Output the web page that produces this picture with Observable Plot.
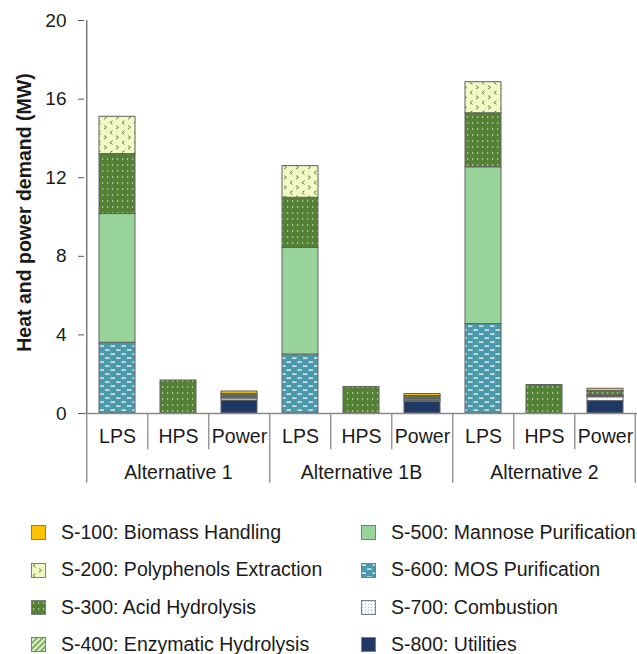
<!DOCTYPE html>
<html><head><meta charset="utf-8">
<script src="https://cdn.jsdelivr.net/npm/d3@7"></script>
<script src="https://cdn.jsdelivr.net/npm/@observablehq/plot@0.6"></script>
<style>
body{margin:0;background:#fff;font-family:"Liberation Sans",Arial,sans-serif;}
#wrap{position:relative;width:637px;height:654px;overflow:hidden;}
#legend .item{position:absolute;display:flex;align-items:center;font-size:19.5px;color:#1a1a1a;white-space:nowrap;line-height:1;}
#legend svg{margin-right:15px;flex:none;}
</style></head><body>
<svg width="0" height="0" style="position:absolute">
<defs>
  <pattern id="p200" patternUnits="userSpaceOnUse" width="12" height="10">
    <rect width="12" height="10" fill="#f2f8c6"/>
    <path d="M4.5,0.8 L2,2.6 L4.5,4.4" fill="none" stroke="#5a8a38" stroke-width="1"/>
    <path d="M8,5.6 L10.5,7.4 L8,9.2" fill="none" stroke="#5a8a38" stroke-width="1"/>
  </pattern>
  <pattern id="p300" patternUnits="userSpaceOnUse" width="5" height="6">
    <rect width="5" height="6" fill="#548235"/>
    <rect x="2" y="2.4" width="1.2" height="1.2" fill="#dfead5"/>
  </pattern>
  <pattern id="p400" patternUnits="userSpaceOnUse" width="4" height="4" patternTransform="rotate(45)">
    <rect width="4" height="4" fill="#e2efd9"/>
    <rect width="1.8" height="4" fill="#70ad47"/>
  </pattern>
  <pattern id="p600" patternUnits="userSpaceOnUse" width="11" height="8">
    <rect width="11" height="8" fill="#4a9aab"/>
    <rect x="0.5" y="1.4" width="4.5" height="1.4" fill="#e6f3f7"/>
    <rect x="6" y="5.4" width="4.5" height="1.4" fill="#e6f3f7"/>
  </pattern>
  <pattern id="p700" patternUnits="userSpaceOnUse" width="3" height="3">
    <rect width="3" height="3" fill="#f7fafd"/>
    <rect x="1" y="1" width="1" height="1" fill="#9dc3e6"/>
  </pattern>
</defs></svg>
<div id="wrap"><div id="chart"></div><div id="legend"></div></div>
<script>
// ---- data ----
const alternatives = ["Alternative 1", "Alternative 1B", "Alternative 2"];
const utilities = ["LPS", "HPS", "Power"];
const sections = [
  "S-100: Biomass Handling",
  "S-200: Polyphenols Extraction",
  "S-300: Acid Hydrolysis",
  "S-400: Enzymatic Hydrolysis",
  "S-500: Mannose Purification",
  "S-600: MOS Purification",
  "S-700: Combustion",
  "S-800: Utilities"
];
// values per bar: Alt1 LPS,HPS,Power | Alt1B LPS,HPS,Power | Alt2 LPS,HPS,Power
const s100 = [0, 0, 0.12, 0, 0, 0.10, 0, 0, 0.12];
const s200 = [1.90, 0, 0.02, 1.61, 0, 0.02, 1.58, 0, 0.04];
const s300 = [3.05, 1.68, 0.12, 2.55, 1.35, 0.12, 2.75, 1.45, 0.15];
const s400 = [0, 0, 0.05, 0, 0, 0, 0, 0, 0.06];
const s500 = [6.55, 0, 0.02, 5.43, 0, 0.02, 7.98, 0, 0.02];
const s600 = [3.60, 0, 0.03, 3.00, 0, 0.08, 4.55, 0, 0.04];
const s700 = [0, 0, 0.10, 0, 0, 0.05, 0, 0, 0.20];
const s800 = [0, 0, 0.66, 0, 0, 0.60, 0, 0, 0.63];
const yTicks = [0, 4, 8, 12, 16, 20];
const yTitle = "Heat and power demand (MW)";
const sectionFills = ["#ffc000", "url(#p200)", "url(#p300)", "url(#p400)", "#98d49a", "url(#p600)", "url(#p700)", "#1f3864"];

// ---- table ----
const sectionValues = [s100, s200, s300, s400, s500, s600, s700, s800];
const bars = alternatives.flatMap(a => utilities.map(u => a + "|" + u));
const rows = [];
for (let k = sections.length - 1; k >= 0; k--) {
  sectionValues[k].forEach((v, i) => { if (v > 0) rows.push({bar: bars[i], section: sections[k], value: v}); });
}

const W = 637, H = 495, ML = 84, MR = 0, MT = 20, MB = 82;
const step = (W - ML - MR) / bars.length;
const groupStarts = alternatives.map(a => a + "|" + utilities[0]);
const inner = bars.filter(b => !groupStarts.includes(b));
const sepStroke = "#8a8a8a";

const chart = Plot.plot({
  width: W, height: H, marginLeft: ML, marginRight: MR, marginTop: MT, marginBottom: MB,
  style: {fontFamily: "'Liberation Sans', Arial, sans-serif", fontSize: "19px", color: "#1a1a1a", background: "transparent", overflow: "visible"},
  x: {type: "band", domain: bars, paddingInner: 0.414, paddingOuter: 0.207, axis: null},
  y: {domain: [0, 20]},
  color: {type: "ordinal", domain: sections, range: sectionFills},
  marks: [
    Plot.barY(rows, {x: "bar", y: "value", fill: "section", stroke: "#606060", strokeWidth: 1}),
    Plot.axisY({ticks: yTicks, tickSize: 6, tickPadding: 12, fontSize: 19, stroke: "#595959", label: null}),
    Plot.text([yTitle], {frameAnchor: "left", textAnchor: "middle", rotate: -90, dx: -60, dy: -4.5, fontSize: 19.5, fontWeight: "bold", fill: "#1a1a1a"}),
    Plot.ruleX([bars[0]], {dx: -step / 2, y1: 0, y2: 20, stroke: "#595959", strokeWidth: 1.2}),
    Plot.ruleY([0], {stroke: sepStroke, strokeWidth: 1.5}),
    Plot.ruleX(inner, {x: d => d, y1: 0, y2: -1.85, dx: -step / 2, stroke: sepStroke, strokeWidth: 1.3}),
    Plot.ruleX(groupStarts, {x: d => d, y1: 0, y2: -3.55, dx: -step / 2, stroke: sepStroke, strokeWidth: 1.3}),
    Plot.ruleX([bars[bars.length - 1]], {x: d => d, y1: 0, y2: -3.55, dx: step / 2 - 1, stroke: sepStroke, strokeWidth: 1.3}),
    Plot.text(bars, {x: d => d, y: -1.2, text: d => d.split("|")[1], fontSize: 19.5, fill: "#1a1a1a"}),
    Plot.text(alternatives, {x: a => a + "|" + utilities[1], y: -3.0, text: d => d, fontSize: 19.5, fill: "#1a1a1a"})
  ]
});
document.getElementById("chart").appendChild(chart);

// ---- legend ----
const legend = document.getElementById("legend");
sections.forEach((s, i) => {
  const col = i < 4 ? 0 : 1, row = i % 4;
  const div = document.createElement("div");
  div.className = "item";
  div.style.left = (col ? 361 : 31) + "px";
  div.style.top = (523 + row * 37.3) + "px";
  div.innerHTML = `<svg width="15" height="15"><rect x="0.5" y="0.5" width="14" height="14" fill="${sectionFills[i]}" stroke="#7f7f7f" stroke-width="1"/></svg><span>${s}</span>`;
  legend.appendChild(div);
});
</script>
</body></html>
